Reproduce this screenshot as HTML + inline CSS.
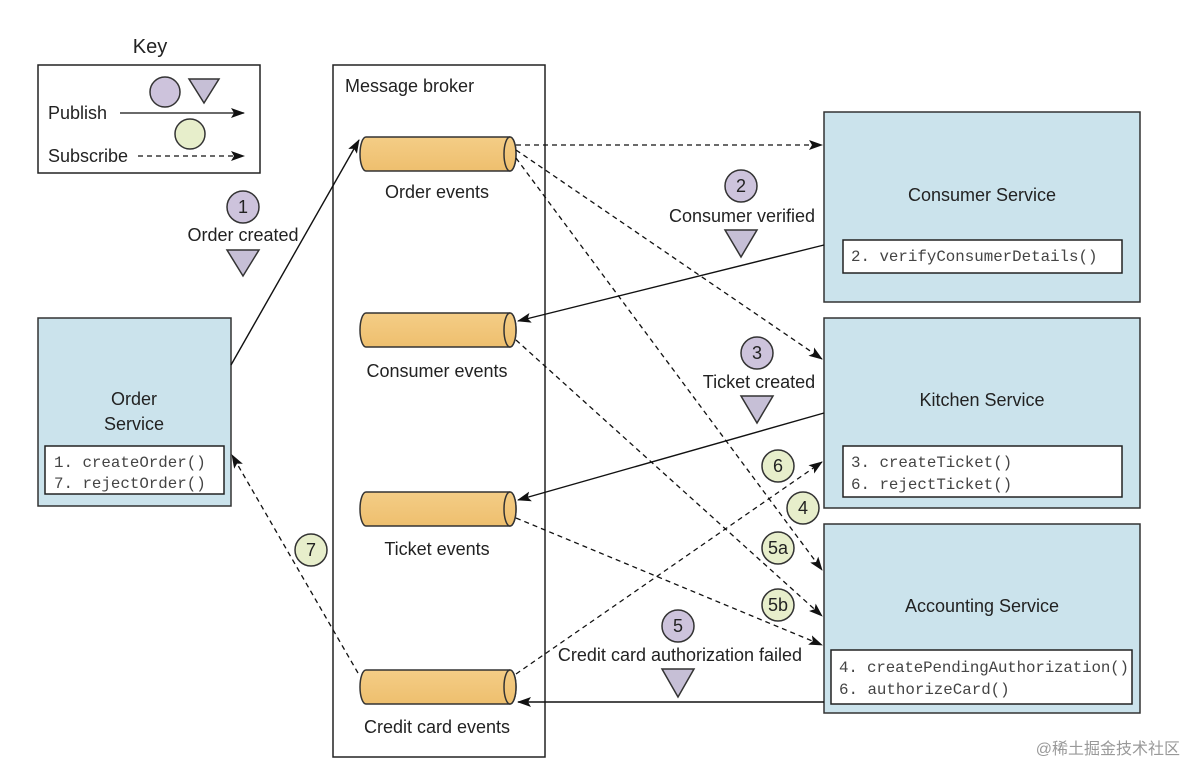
<!DOCTYPE html>
<html><head><meta charset="utf-8"><style>html,body{margin:0;padding:0;background:#fff}svg{display:block}</style></head><body>
<svg width="1200" height="781" viewBox="0 0 1200 781" xmlns="http://www.w3.org/2000/svg" font-family="Liberation Sans, sans-serif">
<defs>
<marker id="a" markerWidth="14" markerHeight="10" refX="13" refY="5" orient="auto" markerUnits="userSpaceOnUse"><path d="M0,0 L14,5 L0,10 L3,5 z" fill="#111"/></marker>
<linearGradient id="cy" x1="0" y1="0" x2="0" y2="1"><stop offset="0" stop-color="#f4cd86"/><stop offset="1" stop-color="#eebf6e"/></linearGradient>
</defs>
<g fill="#222" font-size="18">
<text x="150" y="53" text-anchor="middle" font-size="20">Key</text>
<rect x="38" y="65" width="222" height="108" fill="#fff" stroke="#222" stroke-width="1.5"/>
<circle cx="165" cy="92" r="15" fill="#cdc3dc" stroke="#333" stroke-width="1.5"/>
<path d="M189,79 L219,79 L204,103 z" fill="#c6bfd6" stroke="#333" stroke-width="1.5"/>
<circle cx="190" cy="134" r="15" fill="#e7eecb" stroke="#333" stroke-width="1.5"/>
<text x="48" y="119">Publish</text>
<text x="48" y="162">Subscribe</text>
<line x1="120" y1="113" x2="244" y2="113" stroke="#111" stroke-width="1.3" marker-end="url(#a)"/>
<line x1="138" y1="156" x2="244" y2="156" stroke="#111" stroke-width="1.3" stroke-dasharray="5,4" marker-end="url(#a)"/>

<rect x="333" y="65" width="212" height="692" fill="#fff" stroke="#222" stroke-width="1.5"/>
<text x="345" y="92">Message broker</text>

<rect x="824" y="112" width="316" height="190" fill="#cbe3ec" stroke="#333" stroke-width="1.5"/>
<text x="982" y="201" text-anchor="middle">Consumer Service</text>
<rect x="843" y="240" width="279" height="33" fill="#fff" stroke="#222" stroke-width="1.5"/>
<rect x="824" y="318" width="316" height="190" fill="#cbe3ec" stroke="#333" stroke-width="1.5"/>
<text x="982" y="406" text-anchor="middle">Kitchen Service</text>
<rect x="843" y="446" width="279" height="51" fill="#fff" stroke="#222" stroke-width="1.5"/>
<rect x="824" y="524" width="316" height="189" fill="#cbe3ec" stroke="#333" stroke-width="1.5"/>
<text x="982" y="612" text-anchor="middle">Accounting Service</text>
<rect x="831" y="650" width="301" height="54" fill="#fff" stroke="#222" stroke-width="1.5"/>
<rect x="38" y="318" width="193" height="188" fill="#cbe3ec" stroke="#333" stroke-width="1.5"/>
<text x="134" y="405" text-anchor="middle">Order</text>
<text x="134" y="430" text-anchor="middle">Service</text>
<rect x="45" y="446" width="179" height="48" fill="#fff" stroke="#222" stroke-width="1.5"/>
<g font-family="Liberation Mono, monospace" font-size="15.8" fill="#444">
<text x="851" y="261">2. verifyConsumerDetails()</text>
<text x="851" y="467">3. createTicket()</text>
<text x="851" y="489">6. rejectTicket()</text>
<text x="839" y="672" textLength="290">4. createPendingAuthorization()</text>
<text x="839" y="694">6. authorizeCard()</text>
<text x="54" y="467">1. createOrder()</text>
<text x="54" y="488">7. rejectOrder()</text>
</g>

<g stroke="#333" stroke-width="1.5" fill="url(#cy)">
<path d="M366,137 L510,137 A6,17 0 0 1 510,171 L366,171 A6,17 0 0 1 366,137 z"/><ellipse cx="510" cy="154" rx="6" ry="17"/>
<path d="M366,313 L510,313 A6,17 0 0 1 510,347 L366,347 A6,17 0 0 1 366,313 z"/><ellipse cx="510" cy="330" rx="6" ry="17"/>
<path d="M366,492 L510,492 A6,17 0 0 1 510,526 L366,526 A6,17 0 0 1 366,492 z"/><ellipse cx="510" cy="509" rx="6" ry="17"/>
<path d="M366,670 L510,670 A6,17 0 0 1 510,704 L366,704 A6,17 0 0 1 366,670 z"/><ellipse cx="510" cy="687" rx="6" ry="17"/>
</g>
<text x="437" y="198" text-anchor="middle">Order events</text>
<text x="437" y="377" text-anchor="middle">Consumer events</text>
<text x="437" y="555" text-anchor="middle">Ticket events</text>
<text x="437" y="733" text-anchor="middle">Credit card events</text>

<g stroke="#111" stroke-width="1.4" fill="none" marker-end="url(#a)">
<line x1="231" y1="365" x2="359" y2="140"/>
<line x1="824" y1="245" x2="518" y2="321"/>
<line x1="824" y1="413" x2="518" y2="500"/>
<line x1="824" y1="702" x2="518" y2="702"/>
</g>
<g stroke="#111" stroke-width="1.3" fill="none" stroke-dasharray="5,4" marker-end="url(#a)">
<line x1="516" y1="145" x2="822" y2="145"/>
<line x1="516" y1="150" x2="822" y2="359"/>
<line x1="516" y1="158" x2="822" y2="570"/>
<line x1="516" y1="340" x2="822" y2="616"/>
<line x1="516" y1="518" x2="822" y2="645"/>
<line x1="516" y1="674" x2="822" y2="462"/>
<line x1="358" y1="673" x2="232" y2="455"/>
</g>

<g stroke="#333" stroke-width="1.5">
<circle cx="243" cy="207" r="16" fill="#cdc3dc"/>
<path d="M227,250 L259,250 L243,276 z" fill="#c6bfd6"/>
<circle cx="741" cy="186" r="16" fill="#cdc3dc"/>
<path d="M725,230 L757,230 L741,257 z" fill="#c6bfd6"/>
<circle cx="757" cy="353" r="16" fill="#cdc3dc"/>
<path d="M741,396 L773,396 L757,423 z" fill="#c6bfd6"/>
<circle cx="678" cy="626" r="16" fill="#cdc3dc"/>
<path d="M662,669 L694,669 L678,697 z" fill="#c6bfd6"/>
<circle cx="778" cy="466" r="16" fill="#e7eecb"/>
<circle cx="803" cy="508" r="16" fill="#e7eecb"/>
<circle cx="778" cy="548" r="16" fill="#e7eecb"/>
<circle cx="778" cy="605" r="16" fill="#e7eecb"/>
<circle cx="311" cy="550" r="16" fill="#e7eecb"/>
</g>
<g text-anchor="middle">
<text x="243" y="213">1</text>
<text x="243" y="241">Order created</text>
<text x="741" y="192">2</text>
<text x="742" y="222">Consumer verified</text>
<text x="757" y="359">3</text>
<text x="759" y="388">Ticket created</text>
<text x="678" y="632">5</text>
<text x="680" y="661">Credit card authorization failed</text>
<text x="778" y="472">6</text>
<text x="803" y="514">4</text>
<text x="778" y="554">5a</text>
<text x="778" y="611">5b</text>
<text x="311" y="556">7</text>
</g>
<text x="1180" y="754" text-anchor="end" font-size="16" fill="#999" font-family="Liberation Sans, Noto Sans CJK SC, sans-serif">@稀土掘金技术社区</text>
</g>
</svg>
</body></html>
